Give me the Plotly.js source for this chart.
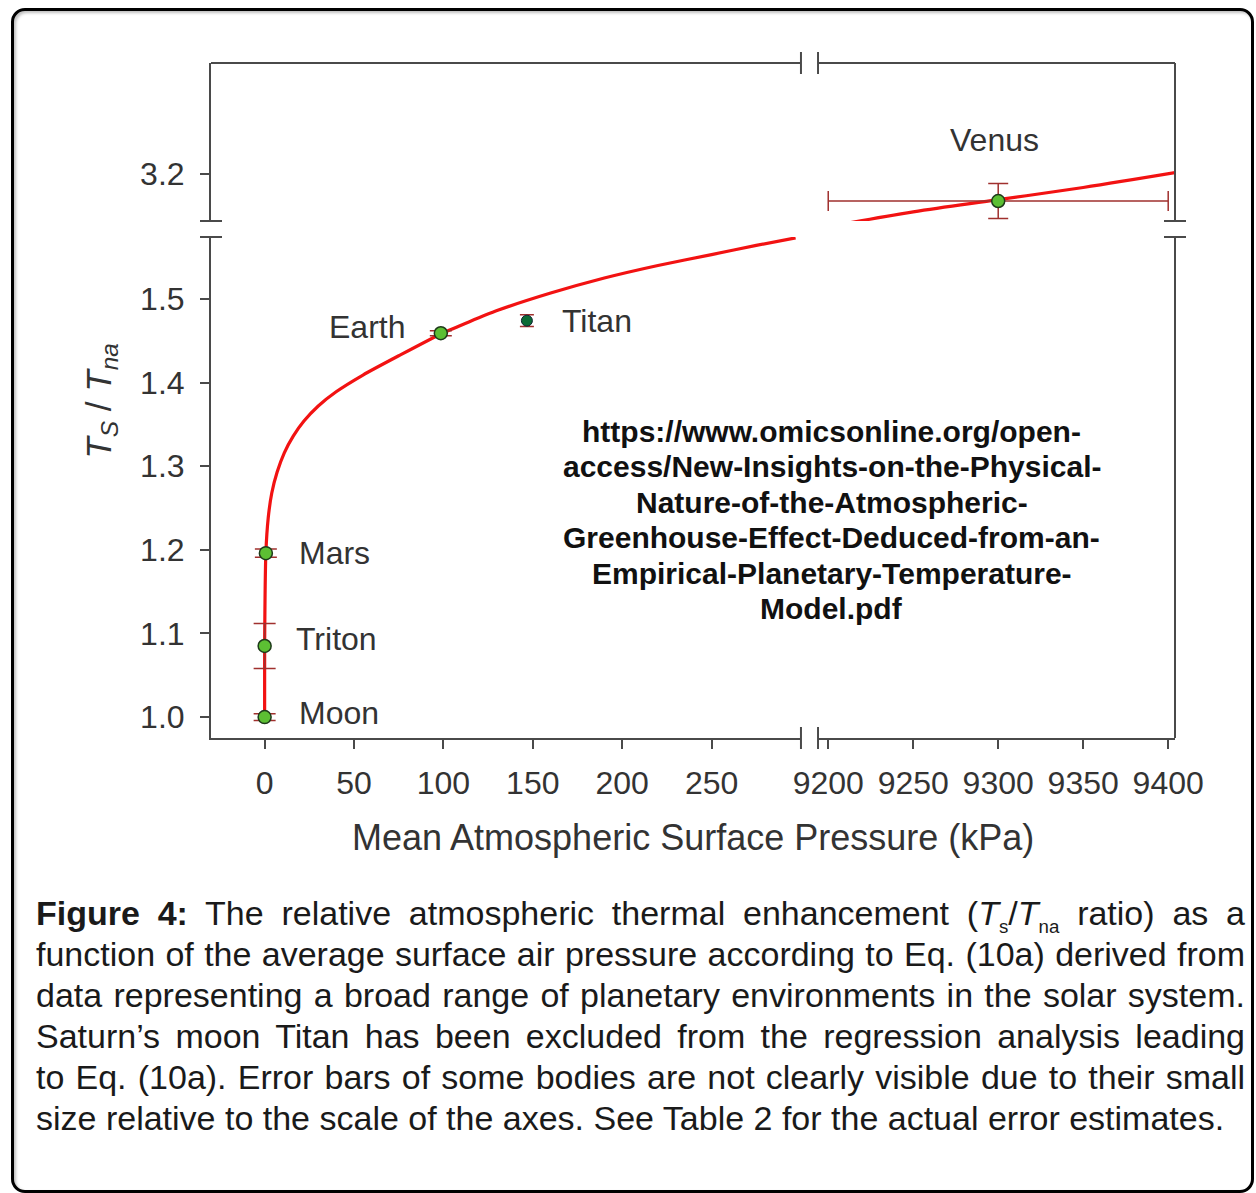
<!DOCTYPE html>
<html>
<head>
<meta charset="utf-8">
<script src="https://cdn.plot.ly/plotly-3.0.1.min.js"></script>
<style>
  html, body { margin:0; padding:0; background:#fff; }
  body { width:1256px; height:1193px; position:relative; overflow:hidden; font-family:"Liberation Sans", Arial, sans-serif; }
  #frame { position:absolute; left:11px; top:8px; width:1237px; height:1179px; border:3px solid #000; border-radius:14px; box-shadow: inset 2px 2px 3px rgba(0,0,0,0.25); }
  #chart { position:absolute; left:0; top:0; width:1256px; height:880px; }
  #caption { position:absolute; left:36px; top:893px; width:1209px; font-size:34px; line-height:41px; color:#1a1a1a; }
  #caption .ln { white-space:nowrap; text-align:justify; text-align-last:justify; height:41px; }
  #caption .ln.last { text-align-last:left; }
  #caption sub { font-size:55%; line-height:0; }
</style>
</head>
<body>
<div id="frame"></div>
<div id="chart"></div>
<div id="caption">
  <div class="ln"><b>Figure 4:</b> The relative atmospheric thermal enhancement (<i>T</i><sub>s</sub>/<i>T</i><sub>na</sub> ratio) as a</div>
  <div class="ln">function of the average surface air pressure according to Eq. (10a) derived from</div>
  <div class="ln">data representing a broad range of planetary environments in the solar system.</div>
  <div class="ln">Saturn’s moon Titan has been excluded from the regression analysis leading</div>
  <div class="ln">to Eq. (10a). Error bars of some bodies are not clearly visible due to their small</div>
  <div class="ln last">size relative to the scale of the axes. See Table 2 for the actual error estimates.</div>
</div>
<script>
// ---- data ----
const bodyNames = ["Moon", "Triton", "Mars", "Earth"];
const bodyPressure = [0, 0.0014, 0.69, 98.55];          // kPa
const bodyRatio = [1.0, 1.085, 1.196, 1.459];           // Ts/Tna
const bodyRatioErr = [0.004, 0.027, 0.005, 0.003];

const titanPressure = [146.7];
const titanRatio = [1.474];
const titanRatioErr = [0.007];

const venusPressure = [9300];
const venusRatio = [3.18];
const venusRatioErr = [0.013];
const venusPressureErr = [100];

// regression curve (Eq. 10a)
const curveLowP = [0, 0.0014, 0.69, 2, 4, 7, 11, 16, 22, 30, 40, 55, 75, 99.4, 130, 160, 190, 220, 250, 275, 297];
const curveLowR = [1.0, 1.086, 1.196, 1.238, 1.268, 1.293, 1.316, 1.336, 1.354, 1.372, 1.389, 1.409, 1.432, 1.459, 1.486, 1.507, 1.525, 1.540, 1.553, 1.564, 1.573];
const curveHighP = [9200, 9250, 9300, 9350, 9404];
const curveHighR = [3.161, 3.172, 3.181, 3.190, 3.201];

const xTicksLow = [0, 50, 100, 150, 200, 250];
const xTicksHigh = [9200, 9250, 9300, 9350, 9400];
const yTicksLow = [1.0, 1.1, 1.2, 1.3, 1.4, 1.5];
const yTicksHigh = [3.2];

const urlLines = ["https://www.omicsonline.org/open-", "access/New-Insights-on-the-Physical-",
  "Nature-of-the-Atmospheric-", "Greenhouse-Effect-Deduced-from-an-",
  "Empirical-Planetary-Temperature-", "Model.pdf"];

// ---- styles ----
const RED = "#f21212";
const ERR = "#a0302e";
const GREEN = "#5cbf33";
const DARKGREEN = "#0a6b35";
const AX = "#4a4a4a";
const TXT = "#333333";
const FONT = "Liberation Sans, Arial, sans-serif";

const traces = [
  { x: curveLowP, y: curveLowR, xaxis: "x", yaxis: "y", mode: "lines",
    line: { color: RED, width: 3.2, shape: "spline", smoothing: 0.5 }, hoverinfo: "skip" },
  { x: curveHighP, y: curveHighR, xaxis: "x2", yaxis: "y2", mode: "lines",
    line: { color: RED, width: 3.2, shape: "spline" }, hoverinfo: "skip" },
  { x: bodyPressure, y: bodyRatio, xaxis: "x", yaxis: "y", mode: "markers", text: bodyNames,
    error_y: { type: "data", array: bodyRatioErr, color: ERR, thickness: 1.5, width: 11 },
    marker: { color: GREEN, size: 13, line: { color: "#1e3a1a", width: 1.5 } } },
  { x: titanPressure, y: titanRatio, xaxis: "x", yaxis: "y", mode: "markers",
    error_y: { type: "data", array: titanRatioErr, color: ERR, thickness: 1.5, width: 7 },
    marker: { color: DARKGREEN, size: 11, symbol: "circle", line: { color: "#123", width: 1 } } },
  { x: venusPressure, y: venusRatio, xaxis: "x2", yaxis: "y2", mode: "markers",
    error_y: { type: "data", array: venusRatioErr, color: ERR, thickness: 1.5, width: 10 },
    error_x: { type: "data", array: venusPressureErr, color: ERR, thickness: 1.5, width: 10 },
    marker: { color: GREEN, size: 13, line: { color: "#1e3a1a", width: 1.5 } } }
];

const xLowDom = [0, 0.612];
const xHighDom = [0.6297, 1];
const yLowDom = [0, 0.7422];
const yHighDom = [0.7659, 1];

const axisCommon = {
  showgrid: false, zeroline: false, showline: true, linecolor: AX, linewidth: 2,
  ticks: "outside", ticklen: 9, tickwidth: 2, tickcolor: AX,
  tickfont: { family: FONT, size: 32, color: TXT }
};

function brk(x, y, horiz) {
  if (horiz) {
    return { type: "line", xref: "paper", yref: "paper", xsizemode: "pixel", xanchor: x,
             x0: -11, x1: 11, y0: y, y1: y, line: { color: AX, width: 2 } };
  }
  return { type: "line", xref: "paper", yref: "paper", ysizemode: "pixel", yanchor: y,
           y0: -11, y1: 11, x0: x, x1: x, line: { color: AX, width: 2 } };
}

const shapes = [
  { type: "line", xref: "paper", yref: "paper", x0: xLowDom[0], x1: xLowDom[1], y0: 1, y1: 1, line: { color: AX, width: 2 } },
  { type: "line", xref: "paper", yref: "paper", x0: xHighDom[0], x1: xHighDom[1], y0: 1, y1: 1, line: { color: AX, width: 2 } },
  { type: "line", xref: "paper", yref: "paper", x0: 1, x1: 1, y0: yLowDom[0], y1: yLowDom[1], line: { color: AX, width: 2 } },
  { type: "line", xref: "paper", yref: "paper", x0: 1, x1: 1, y0: yHighDom[0], y1: yHighDom[1], line: { color: AX, width: 2 } },
  brk(xLowDom[1], 0, false), brk(xHighDom[0], 0, false),
  brk(xLowDom[1], 1, false), brk(xHighDom[0], 1, false),
  brk(0, yLowDom[1], true), brk(0, yHighDom[0], true),
  brk(1, yLowDom[1], true), brk(1, yHighDom[0], true)
];

const labelFont = { family: FONT, size: 32, color: TXT };
function lab(x, y, xr, yr, text, xa, xs, ys) {
  return { x: x, y: y, xref: xr, yref: yr, text: text, showarrow: false, xanchor: xa, yanchor: "middle",
           xshift: xs, yshift: ys, font: labelFont };
}
const annotations = [
  lab(venusPressure[0], venusRatio[0], "x2", "y2", "Venus", "center", -4, 61),
  lab(bodyPressure[3], bodyRatio[3], "x", "y", "Earth", "right", -34, 6),
  lab(titanPressure[0], titanRatio[0], "x", "y", "Titan", "left", 33, 0),
  lab(bodyPressure[2], bodyRatio[2], "x", "y", "Mars", "left", 31, 0),
  lab(bodyPressure[1], bodyRatio[1], "x", "y", "Triton", "left", 29, 7),
  lab(bodyPressure[0], bodyRatio[0], "x", "y", "Moon", "left", 32, 4),
  { x: -0.115, y: 0.5, xref: "paper", yref: "paper", xanchor: "center", yanchor: "middle", textangle: -90, showarrow: false,
    text: "<i>T</i><sub><i>S</i></sub> / <i>T</i><sub><i>na</i></sub>", font: { family: FONT, size: 35, color: TXT } },
  { x: 0.5, y: -0.148, xref: "paper", yref: "paper", xanchor: "center", yanchor: "middle", showarrow: false,
    text: "Mean Atmospheric Surface Pressure (kPa)", font: { family: FONT, size: 36, color: TXT } }
];
urlLines.forEach(function (t, i) {
  annotations.push({ x: 0.644, y: 0.323, xref: "paper", yref: "paper", xanchor: "center", yanchor: "middle",
    showarrow: false, yshift: (2.5 - i) * 35.5, text: "<b>" + t + "</b>",
    font: { family: FONT, size: 30, color: "#111" } });
});

const layout = {
  width: 1256, height: 880,
  margin: { l: 211, r: 81, t: 63, b: 142, pad: 0 },
  paper_bgcolor: "rgba(0,0,0,0)", plot_bgcolor: "rgba(0,0,0,0)",
  showlegend: false,
  xaxis: Object.assign({}, axisCommon, { domain: xLowDom, range: [-30, 300], anchor: "y", tickvals: xTicksLow, ticklabelstandoff: 7 }),
  xaxis2: Object.assign({}, axisCommon, { domain: xHighDom, range: [9194, 9404], anchor: "y", tickvals: xTicksHigh, ticklabelstandoff: 7 }),
  yaxis: Object.assign({}, axisCommon, { domain: yLowDom, range: [0.975, 1.574], anchor: "x", tickvals: yTicksLow, tickformat: ".1f", ticklabelstandoff: 9 }),
  yaxis2: Object.assign({}, axisCommon, { domain: yHighDom, range: [3.1652, 3.2822], anchor: "x", tickvals: yTicksHigh, tickformat: ".1f", ticklabelstandoff: 9 }),
  shapes: shapes,
  annotations: annotations
};

Plotly.newPlot("chart", traces, layout, { displayModeBar: false, staticPlot: true });
</script>
</body>
</html>
